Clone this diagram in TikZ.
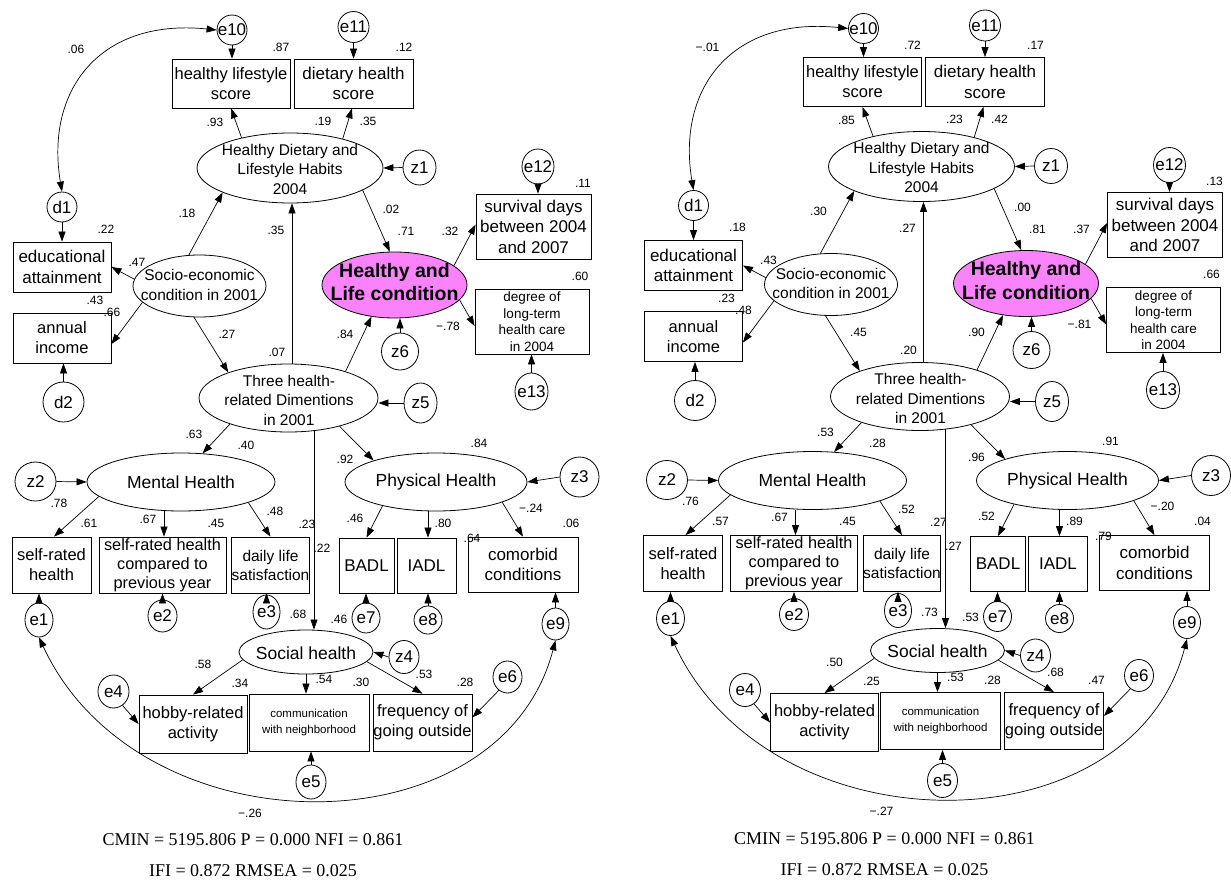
\documentclass[tikz,border=0pt]{standalone}
\usepackage{fontspec}
\setmainfont{Liberation Sans}
\newfontfamily\myserif{Liberation Serif}
\usetikzlibrary{shapes.geometric,arrows.meta}
\definecolor{hlcpink}{RGB}{250,130,250}
\newcommand\myboxf{\fontsize{16.5}{20}\selectfont}
\newcommand\myboxfL{\fontsize{17}{20.5}\selectfont}
\newcommand\myboxfS{\fontsize{15.5}{19}\selectfont}
\newcommand\mysrcf{\fontsize{16.3}{19}\selectfont}
\newcommand\mydegf{\fontsize{13.5}{16.5}\selectfont}
\newcommand\mycomf{\fontsize{11.5}{16}\selectfont}
\newcommand\mylatf{\fontsize{15.5}{19.5}\selectfont}
\newcommand\mylatfL{\fontsize{17.5}{21}\selectfont}
\newcommand\myhlcf{\bfseries\fontsize{19.5}{23.5}\selectfont}
\newcommand\mycircf{\fontsize{17}{20}\selectfont}
\newcommand\mynumf{\fontsize{12}{14}\selectfont}
\newcommand\mystatf{\myserif\fontsize{18}{22}\selectfont}
\tikzset{
  box/.style={draw, line width=0.8pt, inner sep=0pt, align=center, font=\myboxf},
  lat/.style={draw, ellipse, line width=0.8pt, inner sep=0pt},
  ltxt/.style={inner sep=0pt, align=center, font=\mylatf},
  err/.style={draw, ellipse, line width=0.8pt, inner sep=0pt,
    label={[font=\mycircf, inner sep=0pt]center:#1}},
  pth/.style={line width=0.7pt, -{Triangle[length=10pt,width=7pt]}},
  cov/.style={line width=0.7pt, {Triangle[length=10pt,width=7pt]}-{Triangle[length=10pt,width=7pt]}},
  num/.style={inner sep=0pt, font=\mynumf},
  stat/.style={inner sep=0pt, font=\mystatf}
}
\newcommand{\semdiagram}[1]{%
% ---- observed boxes
\node[box, minimum width=118pt, minimum height=49pt] (#1hls) at (231,-83.5) {healthy lifestyle\\score};
\node[box, minimum width=119pt, minimum height=49pt, font=\myboxfL] (#1dhs) at (353.5,-83.5) {dietary health\\score};
\node[box, minimum width=115pt, minimum height=65pt, font=\myboxfL] (#1sdb) at (533.5,-226.5) {survival days\\between 2004\\and 2007};
\node[box, minimum width=114pt, minimum height=65pt, font=\mydegf] (#1dlt) at (532,-321.5) {degree of\\long-term\\health care\\in 2004};
\node[box, minimum width=98pt, minimum height=50pt, font=\myboxfL] (#1edu) at (62,-267) {educational\\attainment};
\node[box, minimum width=98pt, minimum height=50pt] (#1inc) at (62,-338) {annual\\income};
\node[box, minimum width=79pt, minimum height=56pt] (#1srh) at (51.5,-565) {self-rated\\health};
\node[box, minimum width=127pt, minimum height=56pt, font=\mysrcf] (#1src) at (162.5,-565) {self-rated health\\compared to\\previous year};
\node[box, minimum width=77pt, minimum height=56pt, font=\myboxfS] (#1dls) at (270.5,-565) {daily life\\satisfaction};
\node[box, minimum width=55pt, minimum height=55pt, font=\myboxfL] (#1badl) at (366.5,-565.5) {BADL};
\node[box, minimum width=59pt, minimum height=55pt, font=\myboxfL] (#1iadl) at (426.5,-565.5) {IADL};
\node[box, minimum width=110pt, minimum height=55pt, font=\myboxfL] (#1cmb) at (523,-564.5) {comorbid\\conditions};
\node[box, minimum width=108pt, minimum height=58pt] (#1hob) at (193,-724) {hobby-related\\activity};
\node[box, minimum width=120pt, minimum height=57pt, font=\mycomf] (#1com) at (309,-722.5) {communication\\with neighborhood};
\node[box, minimum width=99pt, minimum height=57pt] (#1frq) at (422.5,-722.5) {frequency of\\going outside};
% ---- latent ellipses
\node[lat, minimum width=186pt, minimum height=70pt] (#1hd) at (290,-168) {};
\node[ltxt] (#1hdT) at (290,-169) {Healthy Dietary and\\Lifestyle Habits\\2004};
\node[lat, fill=hlcpink, minimum width=145pt, minimum height=66pt] (#1hlc) at (394.5,-285) {};
\node[ltxt, font=\myhlcf] (#1hlcT) at (394.5,-282) {Healthy and\\Life condition};
\node[lat, minimum width=133pt, minimum height=62pt] (#1soc) at (199.5,-286) {};
\node[ltxt] (#1socT) at (199.5,-285) {Socio-economic\\condition in 2001};
\node[lat, minimum width=179pt, minimum height=68pt] (#1thr) at (288.5,-398) {};
\node[ltxt] (#1thrT) at (289,-400) {Three health-\\related Dimentions\\in 2001};
\node[lat, minimum width=188pt, minimum height=58pt] (#1mh) at (181,-482) {};
\node[ltxt, font=\mylatfL] (#1mhT) at (181,-482) {Mental Health};
\node[lat, minimum width=182pt, minimum height=58pt] (#1ph) at (436,-482) {};
\node[ltxt, font=\mylatfL] (#1phT) at (436,-482) {Physical Health};
\node[lat, minimum width=134pt, minimum height=44pt] (#1sh) at (306,-652) {};
\node[ltxt, font=\mylatfL] (#1shT) at (306,-653) {Social health};
% ---- error / disturbance circles
\node[err=e10, minimum width=30pt, minimum height=30pt] (#1e10) at (232,-30) {};
\node[err=e11, minimum width=31pt, minimum height=31pt] (#1e11) at (353.5,-27) {};
\node[err=z1, minimum width=33pt, minimum height=35pt] (#1z1) at (419.5,-167.5) {};
\node[err=e12, minimum width=32pt, minimum height=35pt] (#1e12) at (538,-166.5) {};
\node[err=d1, minimum width=30pt, minimum height=30pt] (#1d1) at (62,-207) {};
\node[err=d2, minimum width=41pt, minimum height=40pt] (#1d2) at (63.5,-402) {};
\node[err=z6, minimum width=37pt, minimum height=37pt] (#1z6) at (400,-351.5) {};
\node[err=e13, minimum width=33pt, minimum height=37pt] (#1e13) at (531.5,-391.5) {};
\node[err=z5, minimum width=33pt, minimum height=40pt] (#1z5) at (420.5,-403) {};
\node[err=z2, minimum width=41pt, minimum height=39pt] (#1z2) at (35.5,-481.5) {};
\node[err=z3, minimum width=39pt, minimum height=40pt] (#1z3) at (579.5,-477) {};
\node[err=e1, minimum width=28pt, minimum height=34pt] (#1e1) at (39,-620) {};
\node[err=e2, minimum width=29pt, minimum height=32pt] (#1e2) at (162.5,-616) {};
\node[err=e3, minimum width=27pt, minimum height=34pt] (#1e3) at (266.5,-612) {};
\node[err=e7, minimum width=28pt, minimum height=30pt] (#1e7) at (366,-618) {};
\node[err=e8, minimum width=28pt, minimum height=28pt] (#1e8) at (428,-620) {};
\node[err=e9, minimum width=27pt, minimum height=32pt] (#1e9) at (555.5,-624) {};
\node[err=z4, minimum width=30pt, minimum height=33pt] (#1z4) at (404,-657) {};
\node[err=e4, minimum width=31pt, minimum height=33pt] (#1e4) at (113.5,-691.5) {};
\node[err=e5, minimum width=30pt, minimum height=34pt] (#1e5) at (311,-782) {};
\node[err=e6, minimum width=29pt, minimum height=32pt] (#1e6) at (507.5,-677) {};
% ---- paths
\draw[pth] (#1e10.south) -- (#1e10.south |- #1hls.north);
\draw[pth] (#1e11.south) -- (#1e11.south |- #1dhs.north);
\draw[pth] (#1hd.148) -- (#1hls.south);
\draw[pth] (#1hd.29) -- ([xshift=-1.5pt]#1dhs.south);
\draw[pth] (#1z1.west) -- (#1hd.east);
\draw[pth] (#1soc.109) -- (#1hd.200);
\draw[pth] ([xshift=3.5pt]#1thr.north) -- ([xshift=3.5pt]#1thr.north |- #1hd.south);
\draw[pth] (#1hd.-17) -- (#1hlc.98);
\draw[pth] (#1e12.south) -- (#1e12.south |- #1sdb.north);
\draw[pth] (#1hlc.18) -- ([yshift=2pt]#1sdb.west);
\draw[pth] (#1hlc.-13) -- ([yshift=-4.5pt]#1dlt.west);
\draw[pth] (#1e13.north) -- (#1e13.north |- #1dlt.south);
\draw[pth] (#1z6.north) -- (#1z6.north |- #1hlc.south);
\draw[pth] (#1thr.25) -- (#1hlc.234);
\draw[pth] (#1z5.west) -- (#1z5.west -| #1thr.east);
\draw[pth] (#1soc.260) -- (#1thr.157);
\draw[pth] (#1soc.174) -- (#1edu.east);
\draw[pth] (#1soc.196) -- ([yshift=-6pt]#1inc.east);
\draw[pth] (#1d1.south) -- (#1d1.south |- #1edu.north);
\draw[pth] (#1d2.north) -- (#1d2.north |- #1inc.south);
\draw[pth] (#1thr.204) -- (#1mh.53);
\draw[pth] (#1thr.-29) -- (#1ph.161);
\draw[pth] ([xshift=25.5pt,yshift=1.5pt]#1thr.south) -- ([xshift=8pt]#1sh.north);
\draw[pth] (#1z2.east) -- (#1mh.west);
\draw[pth] (#1mh.190) -- ([xshift=2.5pt]#1srh.north);
\draw[pth] ([xshift=1.5pt]#1src.north |- #1mh.south) -- ([xshift=1.5pt]#1src.north);
\draw[pth] (#1mh.-17) -- (#1dls.north);
\draw[pth] (#1ph.204) -- (#1badl.north);
\draw[pth] ([xshift=1.5pt]#1iadl.north |- #1ph.south) -- ([xshift=1.5pt]#1iadl.north);
\draw[pth] (#1ph.-17) -- (#1cmb.north);
\draw[pth] (#1z3.west) -- (#1ph.east);
\draw[pth] (#1e1.north) -- (#1e1.north |- #1srh.south);
\draw[pth] (#1e2.north) -- (#1e2.north |- #1src.south);
\draw[pth] (#1e3.north) -- (#1e3.north |- #1dls.south);
\draw[pth] (#1e7.north) -- (#1e7.north |- #1badl.south);
\draw[pth] (#1e8.north) -- (#1e8.north |- #1iadl.south);
\draw[pth] (#1e9.north) -- (#1e9.north |- #1cmb.south);
\draw[pth] (#1z4.west) -- (#1sh.east);
\draw[pth] (#1sh.187) -- (#1hob.north);
\draw[pth] (#1sh.south) -- (#1sh.south |- #1com.north);
\draw[pth] (#1sh.-9) -- (#1frq.north);
\draw[pth] (#1e4.-57) -- (#1hob.west);
\draw[pth] (#1e6.237) -- ([yshift=5pt]#1frq.east);
\draw[pth] (#1e5.north) -- (#1e5.north |- #1com.south);
\draw[cov] (#1d1.north) .. controls (45,-90) and (100,-18) .. (#1e10.west);
\draw[cov] (#1e1.south) .. controls (139,-853) and (500,-853) .. (#1e9.south);
% ---- coefficients
\node[num] (#1n01) at (76,-49) {\lcovA};
\node[num] (#1n02) at (281,-47) {\lhls};
\node[num] (#1n03) at (404,-47) {\ldhs};
\node[num] (#1n04) at (215,-122) {\lhdhls};
\node[num] (#1n05) at (323,-121) {\lhdr};
\node[num] (#1n06) at (368,-121) {\lhddhs};
\node[num] (#1n07) at (187,-213) {\lsohd};
\node[num] (#1n08) at (276,-230) {\lthhd};
\node[num] (#1n09) at (106,-229) {\ledu};
\node[num] (#1n10) at (391,-209) {\lhdhlc};
\node[num] (#1n11) at (406,-231) {\lhlc};
\node[num] (#1n12) at (450,-231) {\lhlcsdb};
\node[num] (#1n13) at (583,-183) {\lsdb};
\node[num] (#1n14) at (137,-262) {\lsoedu};
\node[num] (#1n15) at (95,-300) {\linc};
\node[num] (#1n16) at (112,-312) {\lsoinc};
\node[num] (#1n17) at (227,-334) {\lsoth};
\node[num] (#1n18) at (277,-352) {\lth};
\node[num] (#1n19) at (580,-276) {\ldlt};
\node[num] (#1n20) at (345,-334) {\lthhlc};
\node[num] (#1n21) at (448,-326) {\lhlcdlt};
\node[num] (#1n22) at (194,-434) {\lthmh};
\node[num] (#1n23) at (246,-445) {\lmh};
\node[num] (#1n24) at (479,-443) {\lph};
\node[num] (#1n25) at (345,-459) {\lthph};
\node[num] (#1n26) at (59,-503) {\lmhsrh};
\node[num] (#1n27) at (89,-523) {\lsrh};
\node[num] (#1n28) at (148,-519) {\lmhsrc};
\node[num] (#1n29) at (216,-523) {\lsrc};
\node[num] (#1n30) at (275,-511) {\lmhdls};
\node[num] (#1n31) at (307,-524) {\ldls};
\node[num] (#1n32) at (322,-548) {\lthsh};
\node[num] (#1n33) at (298,-614) {\lsh};
\node[num] (#1n34) at (355,-518) {\lphbadl};
\node[num] (#1n35) at (443,-523) {\lphiadl};
\node[num] (#1n36) at (531,-508) {\lphcmb};
\node[num] (#1n37) at (571,-523) {\lcmb};
\node[num] (#1n38) at (472,-538) {\liadl};
\node[num] (#1n39) at (339,-619) {\lbadl};
\node[num] (#1n40) at (203,-664) {\lshhob};
\node[num] (#1n41) at (240,-683) {\lhob};
\node[num] (#1n42) at (324,-679) {\lshcom};
\node[num] (#1n43) at (361,-682) {\lcom};
\node[num] (#1n44) at (424,-674) {\lshfrq};
\node[num] (#1n45) at (465,-682) {\lfrq};
\node[num] (#1n46) at (250,-813) {\lcovB};
% ---- fit statistics
\node[stat] (#1st1) at (253,-840) {CMIN = 5195.806 P = 0.000 NFI = 0.861};
\node[stat] (#1st2) at (253,-871) {IFI = 0.872 RMSEA = 0.025};
}
\begin{document}
\begin{tikzpicture}[x=1pt,y=1pt]
\useasboundingbox (0,0) rectangle (1231,-883);
\begin{scope}
\def\lcovA{.06}\def\lhls{.87}\def\ldhs{.12}\def\lhdhls{.93}\def\lhdr{.19}\def\lhddhs{.35}
\def\lsohd{.18}\def\lthhd{.35}\def\ledu{.22}\def\lhdhlc{.02}\def\lhlc{.71}\def\lhlcsdb{.32}
\def\lsdb{.11}\def\lsoedu{.47}\def\linc{.43}\def\lsoinc{.66}\def\lsoth{.27}\def\lth{.07}
\def\ldlt{.60}\def\lthhlc{.84}\def\lhlcdlt{−.78}\def\lthmh{.63}\def\lmh{.40}\def\lph{.84}
\def\lthph{.92}\def\lmhsrh{.78}\def\lsrh{.61}\def\lmhsrc{.67}\def\lsrc{.45}\def\lmhdls{.48}
\def\ldls{.23}\def\lthsh{.22}\def\lsh{.68}\def\lphbadl{.46}\def\lphiadl{.80}\def\lphcmb{−.24}
\def\lcmb{.06}\def\liadl{.64}\def\lbadl{.46}\def\lshhob{.58}\def\lhob{.34}\def\lshcom{.54}
\def\lcom{.30}\def\lshfrq{.53}\def\lfrq{.28}\def\lcovB{−.26}
\semdiagram{L}
\end{scope}
\begin{scope}[xshift=631.5pt,yshift=1.5pt]
\def\lcovA{−.01}\def\lhls{.72}\def\ldhs{.17}\def\lhdhls{.85}\def\lhdr{.23}\def\lhddhs{.42}
\def\lsohd{.30}\def\lthhd{.27}\def\ledu{.18}\def\lhdhlc{.00}\def\lhlc{.81}\def\lhlcsdb{.37}
\def\lsdb{.13}\def\lsoedu{.43}\def\linc{.23}\def\lsoinc{.48}\def\lsoth{.45}\def\lth{.20}
\def\ldlt{.66}\def\lthhlc{.90}\def\lhlcdlt{−.81}\def\lthmh{.53}\def\lmh{.28}\def\lph{.91}
\def\lthph{.96}\def\lmhsrh{.76}\def\lsrh{.57}\def\lmhsrc{.67}\def\lsrc{.45}\def\lmhdls{.52}
\def\ldls{.27}\def\lthsh{.27}\def\lsh{.73}\def\lphbadl{.52}\def\lphiadl{.89}\def\lphcmb{−.20}
\def\lcmb{.04}\def\liadl{.79}\def\lbadl{.53}\def\lshhob{.50}\def\lhob{.25}\def\lshcom{.53}
\def\lcom{.28}\def\lshfrq{.68}\def\lfrq{.47}\def\lcovB{−.27}
\semdiagram{R}
\end{scope}
\end{tikzpicture}
\end{document}
